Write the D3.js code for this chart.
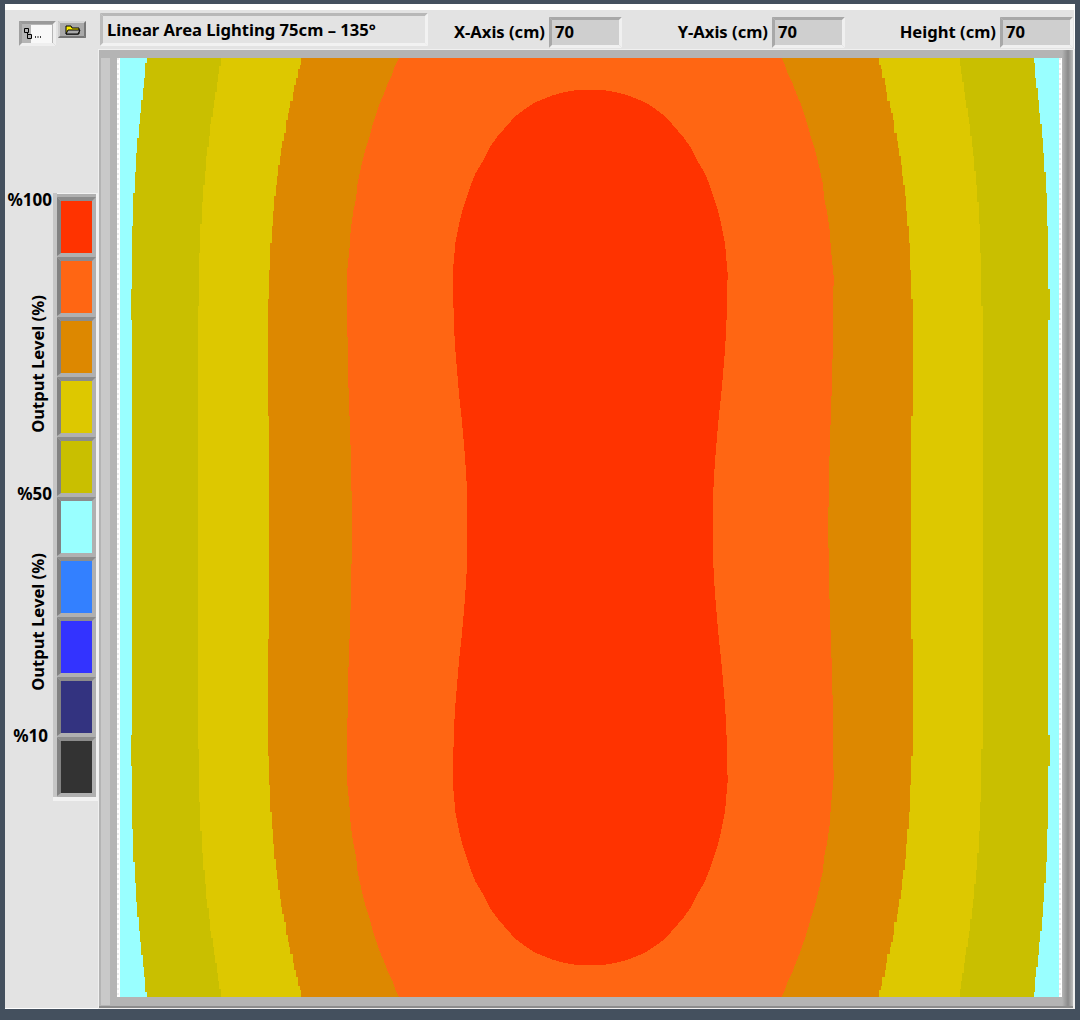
<!DOCTYPE html>
<html>
<head>
<meta charset="utf-8">
<title>Linear Area Lighting</title>
<script src="https://cdn.jsdelivr.net/npm/d3@7"></script>
<style>
  html, body { margin: 0; padding: 0; background: #44505e; }
  svg { display: block; }
  text { font-family: "Noto Sans", "Open Sans", sans-serif; font-weight: 700; fill: #000; }
</style>
</head>
<body>
<div id="chart"></div>
<script>
// Light map. Every edge is the left side of a band as
// [distance from top edge (cm), distance from left edge (cm)], top half only.
// The map is symmetric, the other three quadrants are mirrored when drawn.
const titleText = "Linear Area Lighting 75cm \u2013 135\u00b0";
const fieldLabels = ["X-Axis (cm)", "Y-Axis (cm)", "Height (cm)"];
const fieldValues = ["70", "70", "70"];

const legendColors = ["#ff3300", "#ff6613", "#dd8800", "#ddc800", "#c9bf00",
                      "#99ffff", "#3380ff", "#3333ff", "#333380", "#333333"];
const legendTicks = ["%100", "%50", "%10"];
const legendAxisLabel = "Output Level (%)";

const edgeCyanOlive = [[0, 2.0], [0.4, 1.9], [1.5, 1.8], [2.2, 1.7], [3.1, 1.6], [4.1, 1.5], [4.9, 1.4],
  [6.0, 1.3], [7.1, 1.2], [8.5, 1.1], [10.1, 1.0], [12.5, 0.9], [17.2, 0.8], [19.5, 0.9]];
const edgeOliveYellow = [[0, 7.5], [0.6, 7.4], [1.2, 7.3], [1.8, 7.2], [2.5, 7.1], [3.1, 7.0], [3.7, 6.9],
  [4.4, 6.8], [4.9, 6.7], [5.8, 6.6], [6.6, 6.5], [7.3, 6.4], [8.4, 6.3], [9.5, 6.2], [10.7, 6.1],
  [12.4, 6.0], [14.5, 5.9], [18.5, 5.8]];
const edgeYellowAmber = [[0, 13.5], [0.5, 13.4], [0.8, 13.3], [1.5, 13.1], [2.0, 13.0], [2.5, 12.9],
  [3.2, 12.7], [3.7, 12.6], [4.1, 12.5], [4.6, 12.4], [5.6, 12.2], [6.2, 12.1], [6.7, 12.0], [7.3, 11.9],
  [8.0, 11.8], [8.8, 11.7], [9.5, 11.6], [10.3, 11.5], [11.4, 11.4], [12.5, 11.3], [13.8, 11.2],
  [15.8, 11.1], [18.0, 11.0], [26.7, 11.1]];
const edgeAmberOrange = [[0, 20.8], [0.6, 20.5], [1.2, 20.3], [1.8, 20.0], [2.6, 19.7], [3.3, 19.4],
  [4.2, 19.1], [5.1, 18.8], [5.9, 18.6], [6.8, 18.3], [8.0, 18.0], [9.4, 17.7], [10.5, 17.6], [11.4, 17.4],
  [12.8, 17.2], [14.3, 17.1], [16.3, 16.9], [23.6, 17.0], [26.4, 17.1], [29.3, 17.2], [34.4, 17.3]];
const edgeOrangeRed = [[2.4, 34.0], [2.5, 33.4], [2.6, 32.9], [2.8, 32.2], [3.0, 31.7], [3.2, 31.2], [3.4, 30.8],
  [3.8, 30.2], [4.4, 29.4], [5.1, 28.8], [5.9, 28.1], [6.6, 27.6], [7.6, 27.1], [8.6, 26.5], [9.6, 26.1],
  [11.1, 25.6], [12.3, 25.3], [13.8, 25.0], [16.1, 24.8], [20.1, 24.9], [21.8, 25.0], [23.0, 25.1],
  [24.2, 25.2], [25.3, 25.3], [26.2, 25.4], [27.2, 25.5], [28.3, 25.6], [29.5, 25.7], [30.9, 25.8], [32.8, 25.9]];

const bandEdges = [edgeCyanOlive, edgeOliveYellow, edgeYellowAmber, edgeAmberOrange, edgeOrangeRed];
const bandColors = ["#c9bf00", "#ddc800", "#dd8800", "#ff6613", "#ff3300"];
const bandCurves = [d3.curveStepBefore, d3.curveStepBefore, d3.curveStepBefore, d3.curveLinear, d3.curveLinear];

const roomSize = 70;      // cm
const mirrorSum = 70.1;   // the light sits a touch right of the plot centre

const svg = d3.select("#chart").append("svg")
  .attr("width", 1080)
  .attr("height", 1020);

// Scales
const x = d3.scaleLinear().domain([0, roomSize]).range([120, 1059]);
const y = d3.scaleLinear().domain([0, roomSize]).range([58, 997]);
const yMirror = d3.scaleLinear().domain([0, roomSize]).range([997, 58]);
const legendY = d3.scaleBand().domain(d3.range(legendColors.length)).range([194, 794]).paddingInner(0);

// Raised / sunken box: light and dark edges drawn as four trapezoids
function bevel(px, py, w, h, t, fill, top, left, bottom, right) {
  const g = svg.append("g");
  g.append("rect").attr("x", px).attr("y", py).attr("width", w).attr("height", h).attr("fill", fill);
  const edges = [
    [top, [[px, py], [px + w, py], [px + w - t, py + t], [px + t, py + t]]],
    [left, [[px, py], [px + t, py + t], [px + t, py + h - t], [px, py + h]]],
    [bottom, [[px, py + h], [px + t, py + h - t], [px + w - t, py + h - t], [px + w, py + h]]],
    [right, [[px + w, py], [px + w - t, py + t], [px + w - t, py + h - t], [px + w, py + h]]]
  ];
  edges.forEach(([color, pts]) => {
    g.append("polygon").attr("points", pts.join(" ")).attr("fill", color);
  });
}

// Window
svg.append("rect").attr("x", 5).attr("y", 4).attr("width", 1070).attr("height", 1005).attr("fill", "#fff");
svg.append("rect").attr("x", 5).attr("y", 10).attr("width", 1069).attr("height", 998).attr("fill", "#e3e3e3");

// Plot frame
const defs = svg.append("defs");
const sideGrad = defs.append("linearGradient").attr("id", "frameRight");
[["0%", "#b5b5b5"], ["55%", "#8a8a8a"], ["100%", "#bdbdbd"]].forEach(([o, c]) => {
  sideGrad.append("stop").attr("offset", o).attr("stop-color", c);
});
svg.append("rect").attr("x", 98).attr("y", 49).attr("width", 977).attr("height", 960).attr("fill", "#f0f0f0");
svg.append("rect").attr("x", 99).attr("y", 50).attr("width", 974).attr("height", 957).attr("fill", "#b4b4b4");
svg.append("rect").attr("x", 101).attr("y", 58).attr("width", 9).attr("height", 947).attr("fill", "#c9c9c9");
svg.append("rect").attr("x", 1062).attr("y", 50).attr("width", 11).attr("height", 957).attr("fill", "url(#frameRight)");
svg.append("rect").attr("x", 99).attr("y", 1006).attr("width", 974).attr("height", 2).attr("fill", "#8c8c8c");

// Dotted white margins of the graph
[[117, 120], [1059, 1062]].forEach(([a, b]) => {
  svg.append("rect").attr("x", a).attr("y", 58).attr("width", b - a).attr("height", 939).attr("fill", "#fff");
  svg.append("line").attr("x1", a + 1).attr("x2", a + 1).attr("y1", 58).attr("y2", 997)
    .attr("stroke", "#dcdcdc").attr("stroke-dasharray", "2 3");
});

// Map background is the lowest band visible here
svg.append("rect")
  .attr("x", x(0)).attr("y", y(0))
  .attr("width", x(roomSize) - x(0)).attr("height", y(roomSize) - y(0))
  .attr("fill", "#99ffff")
  .attr("shape-rendering", "crispEdges");

// Bands, outermost first, each drawn for the upper half and mirrored for the lower
const map = svg.append("g").attr("shape-rendering", "crispEdges");
bandEdges.forEach((edge, i) => {
  const rows = edge.concat([[roomSize / 2, edge[edge.length - 1][1]]]);
  [y, yMirror].forEach(yScale => {
    const area = d3.area()
      .y(d => yScale(d[0]))
      .x0(d => x(d[1]))
      .x1(d => x(mirrorSum - d[1]))
      .curve(bandCurves[i]);
    map.append("path")
      .attr("d", area(rows))
      .attr("fill", bandColors[i]);
  });
});

// Legend column
svg.append("rect").attr("x", 53).attr("y", 193).attr("width", 45).attr("height", 608).attr("fill", "#f2f2f2");
svg.append("rect").attr("x", 53).attr("y", 193).attr("width", 4).attr("height", 604).attr("fill", "#c6c6c6");
svg.append("rect").attr("x", 57).attr("y", 194).attr("width", 39).attr("height", 603).attr("fill", "#b0b0b0");
legendColors.forEach((c, i) => {
  const top = legendY(i);
  const bottom = top + legendY.bandwidth() - 1;
  // sunken left and top edges of every swatch
  svg.append("polygon")
    .attr("points", [[57, top + 3], [61, top + 7], [61, bottom], [57, bottom + 3]].join(" "))
    .attr("fill", "#828282");
  svg.append("polygon")
    .attr("points", [[57, top + 3], [96, top + 3], [92, top + 7], [61, top + 7]].join(" "))
    .attr("fill", "#8c8c8c");
  svg.append("rect")
    .attr("x", 61).attr("y", top + 7)
    .attr("width", 31).attr("height", legendY.bandwidth() - 8)
    .attr("fill", c);
});

const tickRows = [{ text: legendTicks[0], right: 52, y: 206 }, { text: legendTicks[1], right: 52, y: 500 }, { text: legendTicks[2], right: 48, y: 742 }];
tickRows.forEach(d => {
  svg.append("text").attr("x", d.right).attr("y", d.y)
    .attr("text-anchor", "end").attr("font-size", 17).text(d.text);
});
[364, 622].forEach(cy => {
  svg.append("text")
    .attr("transform", `translate(44,${cy}) rotate(-90)`)
    .attr("text-anchor", "middle").attr("font-size", 16.6)
    .text(legendAxisLabel);
});

// Path control and folder button
bevel(19, 21, 37, 25, 3, "#b5b5b5", "#9a9a9a", "#a0a0a0", "#efefef", "#efefef");
svg.append("rect").attr("x", 31).attr("y", 25).attr("width", 21).attr("height", 18).attr("fill", "#f8f8f8");
svg.append("path").attr("d", "M24.5 28.5h4v4h-4zM27.5 32.5v2h4v4h-4v-4")
  .attr("fill", "none").attr("stroke", "#000").attr("stroke-width", 1);
svg.append("path").attr("d", "M35 37h1M37.5 37h1M40 37h1").attr("stroke", "#000").attr("stroke-width", 1.4);
bevel(58, 21, 28, 17, 2, "#a9a9a9", "#d5d5d5", "#d0d0d0", "#777", "#777");
svg.append("path").attr("d", "M66 26h5l1 2h7v6H66z").attr("fill", "#ffef00").attr("stroke", "#000");
svg.append("path").attr("d", "M68 30h12l-2 4H66z").attr("fill", "#a9a9a9").attr("stroke", "#000");

// Title box
bevel(100, 13, 328, 33, 3, "#e3e3e3", "#b8b8b8", "#bcbcbc", "#f2f2f2", "#f2f2f2");
svg.append("text").attr("x", 107).attr("y", 36).attr("font-size", 16.6).text(titleText);

// Numeric fields
const fieldRows = [
  { boxX: 549, labelEnd: 545 },
  { boxX: 772, labelEnd: 768 },
  { boxX: 1000, labelEnd: 996 }
];
fieldRows.forEach((f, i) => {
  bevel(f.boxX, 17, 73, 31, 3, "#cfcfcf", "#a8a8a8", "#a8a8a8", "#f0f0f0", "#f0f0f0");
  svg.append("text").attr("x", f.labelEnd).attr("y", 38).attr("text-anchor", "end")
    .attr("font-size", 16.6).text(fieldLabels[i]);
  svg.append("text").attr("x", f.boxX + 6).attr("y", 38)
    .attr("font-size", 16.6).text(fieldValues[i]);
});
</script>
</body>
</html>
